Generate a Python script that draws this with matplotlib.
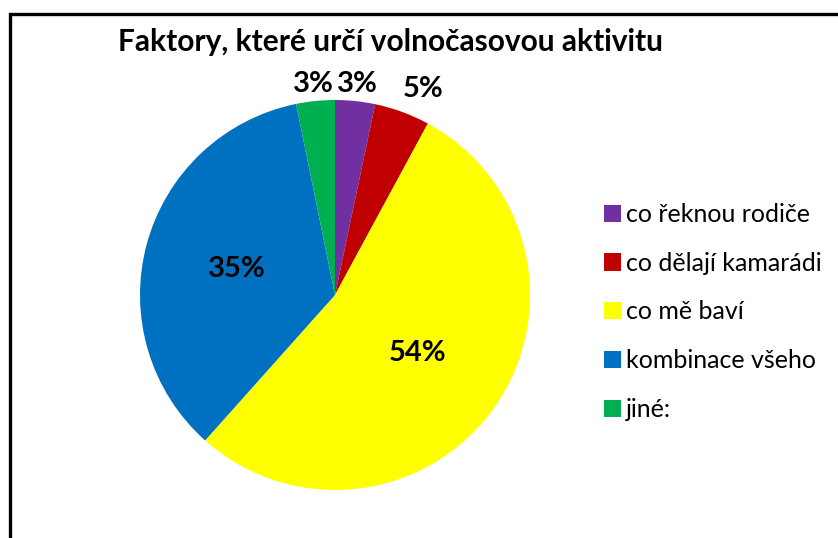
import matplotlib.pyplot as plt
from matplotlib.patches import Rectangle
import numpy as np

plt.rcParams['font.family'] = ['Lato', 'DejaVu Sans']

categories = ["co řeknou rodiče", "co dělají kamarádi", "co mě baví", "kombinace všeho", "jiné:"]
shares = [3.3, 4.6, 53.7, 35.2, 3.2]
colors = ["#7030A0", "#C00000", "#FFFF00", "#0070C0", "#00B050"]
title = "Faktory, které určí volnočasovou aktivitu"

W, H = 838, 538
fig = plt.figure(figsize=(W / 100, H / 100), dpi=100)

# pie centre (335, 295) px, radius 195 px
cx, cy, R = 335, 295, 195
ax = fig.add_axes([(cx - R) / W, (H - cy - R) / H, 2 * R / W, 2 * R / H])

wedges, texts, autotexts = ax.pie(
    shares, colors=colors, startangle=90, counterclock=False,
    autopct="%.0f%%", pctdistance=0.52,
    wedgeprops=dict(linewidth=0),
    textprops=dict(fontsize=21, fontweight="bold", color="black"),
)
ax.set_xlim(-1, 1)
ax.set_ylim(-1, 1)

# small slices get their labels outside the pie
for w, t in zip(wedges, autotexts):
    span = w.theta2 - w.theta1
    if span < 25:
        mid = np.deg2rad((w.theta1 + w.theta2) / 2 - (3 if span > 14 else 0))
        r = 1.09 if span < 14 else 1.15
        t.set_position((r * np.cos(mid), r * np.sin(mid)))

fig.text(390 / W, 1 - 42 / H, title, ha="center", va="center",
         fontsize=21.5, fontweight="bold")

fig.legend(wedges, categories, loc="upper left", frameon=False,
           bbox_to_anchor=(604 / W, 1 - 203 / H), bbox_transform=fig.transFigure,
           fontsize=18, handlelength=0.68, handleheight=0.68,
           handletextpad=0.2, labelspacing=1.03, borderpad=0, borderaxespad=0)

# chart border, only left and top edges fall inside the picture
fig.add_artist(Rectangle((9.5 / W, -0.5), 2, 0.5 + 1 - 14 / H,
                         transform=fig.transFigure, fill=False,
                         edgecolor="black", linewidth=2.4))

fig.savefig("out.png", dpi=100)
